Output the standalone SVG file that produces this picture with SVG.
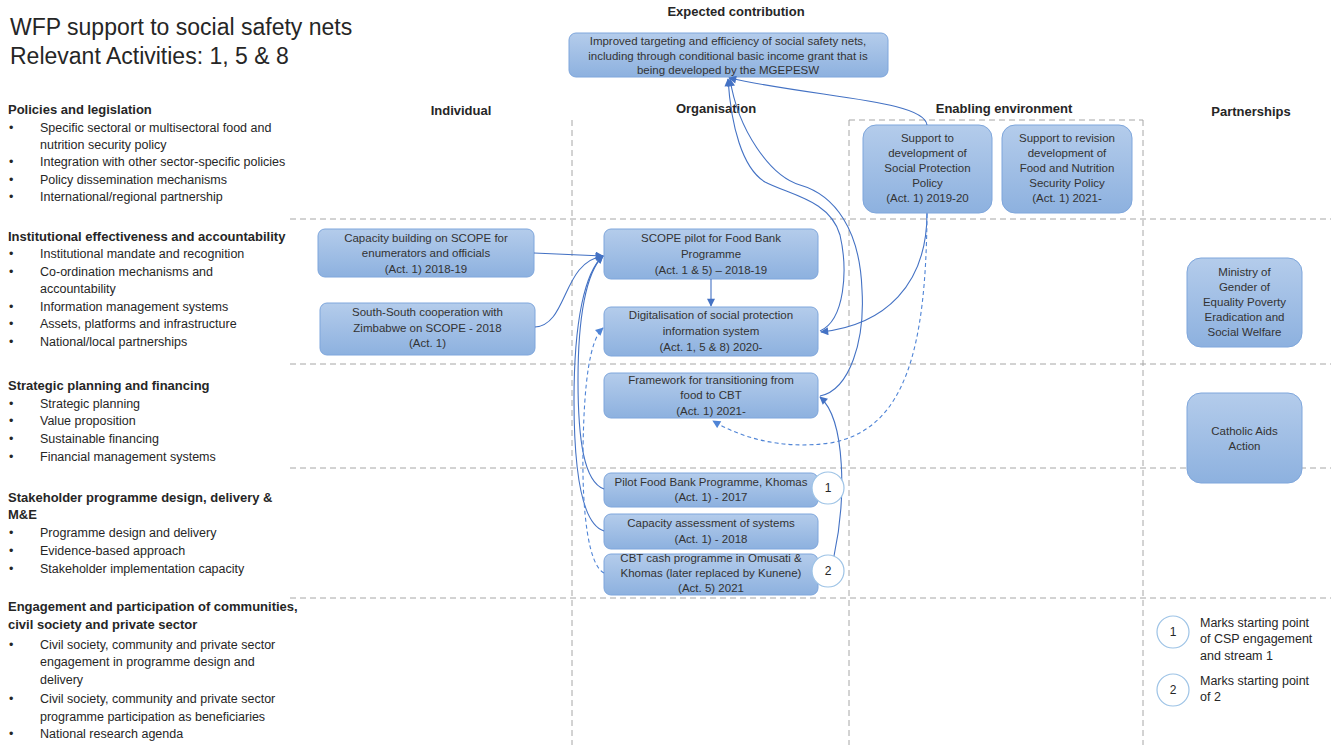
<svg xmlns="http://www.w3.org/2000/svg" width="1331" height="745" viewBox="0 0 1331 745">
<defs>
<linearGradient id="g" x1="0" y1="0" x2="0" y2="1"><stop offset="0" stop-color="#b4cceb"/><stop offset="1" stop-color="#8db1df"/></linearGradient>
<marker id="ah" viewBox="0 0 10 10" refX="9" refY="5" markerWidth="9" markerHeight="8" markerUnits="userSpaceOnUse" orient="auto"><path d="M0,0 L10,5 L0,10 z" fill="#4472c4"/></marker>
<marker id="ahd" viewBox="0 0 10 10" refX="9" refY="5" markerWidth="9" markerHeight="8" markerUnits="userSpaceOnUse" orient="auto"><path d="M0,0 L10,5 L0,10 z" fill="#4f84d6"/></marker>
<style>
.t{font-family:"Liberation Sans",Arial,sans-serif;fill:#262626}
.title{font-size:23px}
.h{font-size:13px;font-weight:bold}
.hc{font-size:13px;font-weight:bold;text-anchor:middle}
.b{font-size:12.5px}
.n{font-family:"Liberation Sans",Arial,sans-serif;font-size:11.5px;text-anchor:middle;fill:#333}
.box{fill:url(#g);stroke:#7ea6dc;stroke-width:1}
.grid{stroke:#a6a6a6;stroke-width:1;stroke-dasharray:6 4;fill:none}
.c{fill:none;stroke:#4472c4;stroke-width:1.1}
.cd{fill:none;stroke:#4f84d6;stroke-width:1.1;stroke-dasharray:4 3}
.circ{fill:#fff;stroke:#9dc3e6;stroke-width:1.2}
.num{font-family:"Liberation Sans",Arial,sans-serif;font-size:12px;text-anchor:middle;fill:#262626}
</style>
</defs>
<rect width="1331" height="745" fill="#fff"/>

<g id="grid">
<line class="grid" x1="849" y1="120" x2="1143" y2="120"/>
<line class="grid" x1="290" y1="219" x2="1331" y2="219"/>
<line class="grid" x1="290" y1="364" x2="1331" y2="364"/>
<line class="grid" x1="290" y1="468" x2="1331" y2="468"/>
<line class="grid" x1="290" y1="598" x2="1331" y2="598"/>
<line class="grid" x1="572" y1="120" x2="572" y2="745"/>
<line class="grid" x1="849" y1="120" x2="849" y2="745"/>
<line class="grid" x1="1143" y1="120" x2="1143" y2="745"/>
</g>

<g id="title">
<text class="t title" x="10" y="35">WFP support to social safety nets</text>
<text class="t title" x="10" y="64">Relevant Activities: 1, 5 &amp; 8</text>
</g>

<g id="headers">
<text class="t hc" x="736" y="16">Expected contribution</text>
<text class="t hc" x="461" y="115">Individual</text>
<text class="t hc" x="716" y="113">Organisation</text>
<text class="t hc" x="1004" y="113">Enabling environment</text>
<text class="t hc" x="1251" y="116">Partnerships</text>
</g>

<g id="left-text">
<text class="t h" x="8" y="114">Policies and legislation</text>
<text class="t b" x="9" y="132">•</text><text class="t b" x="40" y="132">Specific sectoral or multisectoral food and</text>
<text class="t b" x="40" y="149">nutrition security policy</text>
<text class="t b" x="9" y="166">•</text><text class="t b" x="40" y="166">Integration with other sector-specific policies</text>
<text class="t b" x="9" y="184">•</text><text class="t b" x="40" y="184">Policy dissemination mechanisms</text>
<text class="t b" x="9" y="201">•</text><text class="t b" x="40" y="201">International/regional partnership</text>

<text class="t h" x="8" y="241">Institutional effectiveness and accountability</text>
<text class="t b" x="9" y="258">•</text><text class="t b" x="40" y="258">Institutional mandate and recognition</text>
<text class="t b" x="9" y="276">•</text><text class="t b" x="40" y="276">Co-ordination mechanisms and</text>
<text class="t b" x="40" y="293">accountability</text>
<text class="t b" x="9" y="311">•</text><text class="t b" x="40" y="311">Information management systems</text>
<text class="t b" x="9" y="328">•</text><text class="t b" x="40" y="328">Assets, platforms and infrastructure</text>
<text class="t b" x="9" y="346">•</text><text class="t b" x="40" y="346">National/local partnerships</text>

<text class="t h" x="8" y="390">Strategic planning and financing</text>
<text class="t b" x="9" y="408">•</text><text class="t b" x="40" y="408">Strategic planning</text>
<text class="t b" x="9" y="425">•</text><text class="t b" x="40" y="425">Value proposition</text>
<text class="t b" x="9" y="443">•</text><text class="t b" x="40" y="443">Sustainable financing</text>
<text class="t b" x="9" y="461">•</text><text class="t b" x="40" y="461">Financial management systems</text>

<text class="t h" x="8" y="502">Stakeholder programme design, delivery &amp;</text>
<text class="t h" x="8" y="519">M&amp;E</text>
<text class="t b" x="9" y="537">•</text><text class="t b" x="40" y="537">Programme design and delivery</text>
<text class="t b" x="9" y="555">•</text><text class="t b" x="40" y="555">Evidence-based approach</text>
<text class="t b" x="9" y="573">•</text><text class="t b" x="40" y="573">Stakeholder implementation capacity</text>

<text class="t h" x="8" y="611">Engagement and participation of communities,</text>
<text class="t h" x="8" y="629">civil society and private sector</text>
<text class="t b" x="9" y="649">•</text><text class="t b" x="40" y="649">Civil society, community and private sector</text>
<text class="t b" x="40" y="666">engagement in programme design and</text>
<text class="t b" x="40" y="684">delivery</text>
<text class="t b" x="9" y="703">•</text><text class="t b" x="40" y="703">Civil society, community and private sector</text>
<text class="t b" x="40" y="721">programme participation as beneficiaries</text>
<text class="t b" x="9" y="738">•</text><text class="t b" x="40" y="738">National research agenda</text>
</g>

<g id="node-expected">
<rect class="box" x="569" y="33" width="319" height="44" rx="7"/>
<text class="n" x="728" y="45">Improved targeting and efficiency of social safety nets,</text>
<text class="n" x="728" y="60">including through conditional basic income grant that is</text>
<text class="n" x="728" y="74">being developed by the MGEPESW</text>
</g>

<g id="node-capacity-building">
<rect class="box" x="318" y="229" width="216" height="48" rx="7"/>
<text class="n" x="426" y="242">Capacity building on SCOPE for</text>
<text class="n" x="426" y="257">enumerators and officials</text>
<text class="n" x="426" y="273">(Act. 1) 2018-19</text>
</g>

<g id="node-south-south">
<rect class="box" x="320" y="303" width="215" height="52" rx="7"/>
<text class="n" x="427.5" y="316">South-South cooperation with</text>
<text class="n" x="427.5" y="332">Zimbabwe on SCOPE - 2018</text>
<text class="n" x="427.5" y="347">(Act. 1)</text>
</g>

<g id="node-scope-pilot">
<rect class="box" x="604" y="229" width="214" height="50" rx="7"/>
<text class="n" x="711" y="242">SCOPE pilot for Food Bank</text>
<text class="n" x="711" y="258">Programme</text>
<text class="n" x="711" y="274">(Act. 1 &amp; 5) – 2018-19</text>
</g>

<g id="node-digitalisation">
<rect class="box" x="604" y="307" width="214" height="49" rx="7"/>
<text class="n" x="711" y="319">Digitalisation of social protection</text>
<text class="n" x="711" y="335">information system</text>
<text class="n" x="711" y="351">(Act. 1, 5 &amp; 8) 2020-</text>
</g>

<g id="node-framework">
<rect class="box" x="604" y="373" width="214" height="45" rx="7"/>
<text class="n" x="711" y="384">Framework for transitioning from</text>
<text class="n" x="711" y="399">food to CBT</text>
<text class="n" x="711" y="415">(Act. 1) 2021-</text>
</g>

<g id="node-pilot-food-bank">
<rect class="box" x="604" y="473" width="214" height="34" rx="7"/>
<text class="n" x="711" y="486">Pilot Food Bank Programme, Khomas</text>
<text class="n" x="711" y="501">(Act. 1) - 2017</text>
</g>

<g id="node-capacity-assessment">
<rect class="box" x="604" y="514" width="214" height="35" rx="7"/>
<text class="n" x="711" y="527">Capacity assessment of systems</text>
<text class="n" x="711" y="543">(Act. 1) - 2018</text>
</g>

<g id="node-cbt-cash">
<rect class="box" x="604" y="554" width="214" height="41" rx="7"/>
<text class="n" x="711" y="562">CBT cash programme in Omusati &amp;</text>
<text class="n" x="711" y="577">Khomas (later replaced by Kunene)</text>
<text class="n" x="711" y="592">(Act. 5) 2021</text>
</g>

<g id="node-support-spp">
<rect class="box" x="863" y="125" width="129" height="88" rx="13"/>
<text class="n" x="927.5" y="142">Support to</text>
<text class="n" x="927.5" y="157">development of</text>
<text class="n" x="927.5" y="172">Social Protection</text>
<text class="n" x="927.5" y="187">Policy</text>
<text class="n" x="927.5" y="202">(Act. 1) 2019-20</text>
</g>

<g id="node-support-fnsp">
<rect class="box" x="1002" y="125" width="130" height="88" rx="13"/>
<text class="n" x="1067" y="142">Support to revision</text>
<text class="n" x="1067" y="157">development of</text>
<text class="n" x="1067" y="172">Food and Nutrition</text>
<text class="n" x="1067" y="187">Security Policy</text>
<text class="n" x="1067" y="202">(Act. 1) 2021-</text>
</g>

<g id="node-ministry">
<rect class="box" x="1187" y="258" width="115" height="89" rx="14"/>
<text class="n" x="1244.5" y="276">Ministry of</text>
<text class="n" x="1244.5" y="291">Gender of</text>
<text class="n" x="1244.5" y="306">Equality Poverty</text>
<text class="n" x="1244.5" y="321">Eradication and</text>
<text class="n" x="1244.5" y="336">Social Welfare</text>
</g>

<g id="node-catholic">
<rect class="box" x="1187" y="393" width="115" height="90" rx="14"/>
<text class="n" x="1244.5" y="435">Catholic Aids</text>
<text class="n" x="1244.5" y="450">Action</text>
</g>

<g id="connectors">
<path class="c" d="M534,253 L603,256" marker-end="url(#ah)"/>
<path class="c" d="M535,327 C568,325 562,262 603,256" marker-end="url(#ah)"/>
<path class="c" d="M711,279 L711,306" marker-end="url(#ah)"/>
<path class="c" d="M604,489 C584,482 578,440 578,380 C578,318 586,272 603,256" marker-end="url(#ah)"/>
<path class="c" d="M604,531 C582,524 574,470 574,400 C574,320 585,272 603,256" marker-end="url(#ah)"/>
<path class="cd" d="M604,573 C588,565 582,510 583,450 C584,380 590,340 603,328" marker-end="url(#ahd)"/>
<path class="c" d="M927,125 C924,100 820,98 729,78" marker-end="url(#ah)"/>
<path class="c" d="M820,331 C845,320 848,270 840,235 C830,200 790,195 765,182 C742,168 731,125 728,79" marker-end="url(#ah)"/>
<path class="c" d="M820,396 C850,390 865,340 862,290 C860,230 835,195 800,185 C770,176 738,130 730,79" marker-end="url(#ah)"/>
<path class="c" d="M927,213 C927,285 885,325 821,332" marker-end="url(#ah)"/>
<path class="cd" d="M927,214 C926,350 905,430 830,443 C780,450 740,437 713,421" marker-end="url(#ahd)"/>
<path class="c" d="M834,556 C846,500 846,420 820,397" marker-end="url(#ah)"/>
</g>

<g id="marker-1">
<circle class="circ" cx="828" cy="488" r="16"/>
<text class="num" x="828" y="492">1</text>
</g>
<g id="marker-2">
<circle class="circ" cx="828" cy="571" r="16"/>
<text class="num" x="828" y="575">2</text>
</g>

<g id="legend">
<circle class="circ" cx="1173" cy="632" r="16"/>
<text class="num" x="1173" y="636">1</text>
<circle class="circ" cx="1173" cy="690" r="16"/>
<text class="num" x="1173" y="694">2</text>
<text class="t b" x="1200" y="627">Marks starting point</text>
<text class="t b" x="1200" y="643">of CSP engagement</text>
<text class="t b" x="1200" y="660">and stream 1</text>
<text class="t b" x="1200" y="685">Marks starting point</text>
<text class="t b" x="1200" y="701">of 2</text>
</g>
</svg>
